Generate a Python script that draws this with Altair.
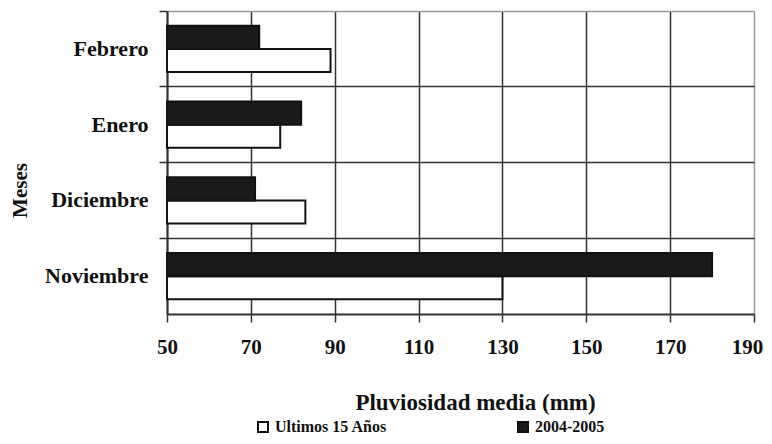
import altair as alt
import pandas as pd

meses = ["Febrero", "Enero", "Diciembre", "Noviembre"]
ultimos_15 = [89, 77, 83, 130]
periodo_2004_2005 = [72, 82, 71, 180]
series = ["Ultimos 15 Años", "2004-2005"]
x_ticks = [50, 70, 90, 110, 130, 150, 170, 190]

rows = []
for m, u, p in zip(meses, ultimos_15, periodo_2004_2005):
    rows.append({"mes": m, "serie": series[0], "valor": u})
    rows.append({"mes": m, "serie": series[1], "valor": p})
df = pd.DataFrame(rows)

FONT = "Liberation Serif"
HEIGHT = 303

x_enc = alt.X(
    "valor:Q",
    scale=alt.Scale(domain=[50, 190], zero=False, nice=False, clamp=True),
    axis=alt.Axis(
        values=x_ticks,
        title="Pluviosidad media (mm)",
        grid=True,
        gridColor=alt.condition(alt.datum.value == 190, alt.value("#9a9a9a"), alt.value("#333333")),
        gridWidth=1.5,
        domainColor="#333333",
        domainWidth=2,
        tickColor="#333333",
        tickWidth=1.5,
        tickSize=8,
        labelFlush=False,
        labelOffset=alt.condition(alt.datum.value == 190, alt.value(-7), alt.value(0)),
        labelFont=FONT,
        labelFontSize=21,
        labelFontWeight="bold",
        labelColor="#111111",
        labelPadding=14,
        titleFont=FONT,
        titleFontSize=23,
        titleFontWeight="bold",
        titleColor="#111111",
        titleX=308,
        titleY=88,
        titleAlign="center",
        titleBaseline="middle",
    ),
)

color_enc = alt.Color(
    "serie:N",
    scale=alt.Scale(domain=series, range=["#ffffff", "#1a1a1a"]),
    legend=alt.Legend(
        title=None,
        orient="none",
        direction="horizontal",
        legendX=88,
        legendY=408,
        symbolType="square",
        symbolSize=100,
        symbolStrokeColor="#111111",
        symbolStrokeWidth=2,
        labelFont=FONT,
        labelFontSize=16,
        labelFontWeight="bold",
        labelColor="#111111",
        labelOffset=4,
        labelLimit=300,
        columnPadding=126,
    ),
)

y_offset = alt.YOffset("serie:N", sort=["2004-2005", "Ultimos 15 Años"],
                       scale=alt.Scale(paddingInner=0, paddingOuter=0.63))

bars = alt.Chart(df).mark_bar(stroke="#111111", strokeWidth=2).encode(
    x=x_enc,
    y=alt.Y(
        "mes:N",
        scale=alt.Scale(domain=meses, paddingInner=0, paddingOuter=0),
        sort=meses,
        axis=alt.Axis(
            title="Meses",
            bandPosition=0,
            grid=True,
            gridColor=alt.condition(alt.datum.value == "Febrero", alt.value("#9a9a9a"), alt.value("#333333")),
            gridWidth=1.5,
            ticks=True,
            tickSize=8,
            tickColor="#333333",
            tickWidth=1.5,
            domain=True,
            domainColor="#333333",
            domainWidth=2,
            labelFont=FONT,
            labelFontSize=22,
            labelFontWeight="bold",
            labelColor="#111111",
            labelPadding=11,
            titleFont=FONT,
            titleFontSize=21,
            titleFontWeight="bold",
            titleColor="#111111",
            titleX=-147,
            titleY=179,
            titleAlign="center",
            titleBaseline="middle",
            titleAngle=270,
        ),
    ),
    yOffset=y_offset,
    color=color_enc,
)

chart = (
    bars
    .properties(
        width=587,
        height=HEIGHT,
        autosize=alt.AutoSizeParams(type="none"),
        padding={"left": 159, "top": 3, "right": 10, "bottom": 122},
    )
    .configure_view(stroke=None)
    .configure(background="white")
)

chart.save("out.html", embed_options={"renderer": "svg", "actions": False})
